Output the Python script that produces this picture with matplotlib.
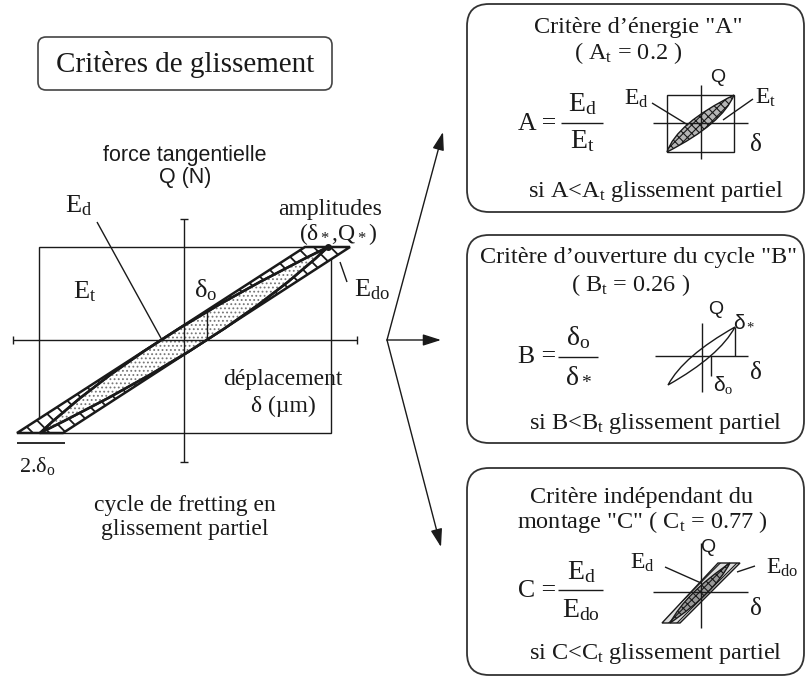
import matplotlib
matplotlib.use("Agg")
import matplotlib.pyplot as plt
from matplotlib.patches import FancyBboxPatch, Rectangle, PathPatch, Polygon
from matplotlib.path import Path

# ---------------- data (text content) ----------------
main_title = "Critères de glissement"
criteria_names = ["A", "B", "C"]
thresholds = [0.2, 0.26, 0.77]
criteria_titles = ["Critère d\u2019énergie \"A\"",
                   "Critère d\u2019ouverture du cycle \"B\"",
                   "Critère indépendant du"]
caption_lines = ["cycle de fretting en", "glissement partiel"]
axis_q_lines = ["force tangentielle", "Q (N)"]
axis_d_lines = ["déplacement", "δ (µm)"]

plt.rcParams['font.family'] = ['Liberation Serif', 'DejaVu Serif']
plt.rcParams['mathtext.fontset'] = 'custom'
plt.rcParams['mathtext.rm'] = 'Liberation Serif'
plt.rcParams['mathtext.it'] = 'Liberation Serif:italic'
plt.rcParams['mathtext.bf'] = 'Liberation Serif:bold'
plt.rcParams['hatch.linewidth'] = 0.8

fig = plt.figure(figsize=(8.06, 6.79), dpi=100)
ax = fig.add_axes([0, 0, 1, 1])
ax.set_xlim(0, 806)
ax.set_ylim(679, 0)
ax.axis('off')

K = '#1a1a1a'
SERIF = 17
BOX = 17.5
SANS = ['Liberation Sans', 'DejaVu Sans']


def T(x, y, s, size=SERIF, family=None, ha='center', va='center'):
    kw = {}
    if family is not None:
        kw['family'] = family
    ax.text(x, y, s, fontsize=size, ha=ha, va=va, color=K, **kw)


def L(xs, ys, lw=1.0, color=K):
    ax.plot(xs, ys, color=color, lw=lw, solid_capstyle='butt')


def lens(p0, p1, off):
    """lens-shaped loop between two tips, offsets of the quadratic control points in x"""
    mx, my = (p0[0] + p1[0]) / 2, (p0[1] + p1[1]) / 2
    verts = [p0, (mx - off[0], my), p1, (mx + off[1], my), p0, p0]
    codes = [Path.MOVETO, Path.CURVE3, Path.CURVE3, Path.CURVE3, Path.CURVE3, Path.CLOSEPOLY]
    return Path(verts, codes)


# ---------------- title box ----------------
ax.add_patch(FancyBboxPatch((38, 37), 294, 53, boxstyle="round,pad=0,rounding_size=8",
                            fc='white', ec='#444444', lw=1.2))
T(185, 64, main_title, size=21)

# ---------------- main diagram ----------------
ax.add_patch(Rectangle((39, 247), 292, 186, fill=False, ec=K, lw=1.0))
L([184, 184], [219, 462])
L([13, 357], [340, 340])
for (x0, x1, y0, y1) in [(180, 188, 219, 219), (180, 188, 462, 462)]:
    L([x0, x1], [y0, y1])
for (x0, x1, y0, y1) in [(13, 13, 336, 344), (357, 357, 336, 344)]:
    L([x0, x1], [y0, y1])

# hatched parallelogram (E_do)
with plt.rc_context({'hatch.linewidth': 1.3}):
    ax.add_patch(Polygon([(17, 433), (63, 433), (350, 247), (305, 247)], closed=True,
                         fc='white', ec=K, lw=1.8, hatch='\\\\'))
# dotted loop (E_d)
loop = lens((40, 433), (328, 247), (46, 46))
ax.add_patch(PathPatch(loop, fc='white', ec=K, lw=1.8))
ax.add_patch(PathPatch(loop, fc='none', ec='#777777', lw=0, hatch='....'))
ax.add_patch(PathPatch(loop, fc='none', ec=K, lw=1.8))
ax.plot([328], [247], 'o', color=K, ms=4)
L([17, 65], [443, 443], lw=1.3)
L([207, 207], [312, 340])
L([97, 162], [222, 340])
L([340, 347], [262, 282])

T(185, 155, axis_q_lines[0], size=15.5, family=SANS)
T(185, 177, axis_q_lines[1], size=15.5, family=SANS)
T(79, 206, r'E$_\mathrm{d}$', size=19)
T(330, 210, "amplitudes")
T(338, 234, r'(δ$_*$,Q$_*$)', size=17)
T(85, 292, r'E$_\mathrm{t}$', size=19)
T(206, 290, r'δ$_\mathrm{o}$', size=19)
T(372, 290, r'E$_\mathrm{do}$', size=19)
T(283, 379, axis_d_lines[0])
T(283, 406, axis_d_lines[1])
T(37, 466, r'2.δ$_\mathrm{o}$', size=16)
T(185, 505, caption_lines[0])
T(185, 530, caption_lines[1])

# ---------------- arrows ----------------
apex = (387, 340)
for tip in [(443, 132), (441, 340), (441, 547)]:
    ax.annotate('', xy=tip, xytext=apex,
                arrowprops=dict(arrowstyle='-|>,head_length=1.1,head_width=0.35',
                                color=K, lw=1.0, shrinkA=0, shrinkB=0))

# ---------------- criterion boxes ----------------
boxes = [(467, 4, 212), (467, 235, 443), (467, 468, 675)]
for (x0, y0, y1) in boxes:
    ax.add_patch(FancyBboxPatch((x0, y0), 337, y1 - y0, boxstyle="round,pad=0,rounding_size=22",
                                fc='white', ec='#333333', lw=1.3))

# Box A
T(638, 28, criteria_titles[0], size=BOX)
T(628, 53, r'( A$_\mathrm{t}$ = %s )' % thresholds[0], size=BOX)
T(537, 124, '%s =' % criteria_names[0], size=18.5)
L([561, 603], [123, 123], lw=1.0)
T(582, 104, r'E$_\mathrm{d}$', size=20)
T(582, 141, r'E$_\mathrm{t}$', size=20)
T(656, 192, r'si %s<%s$_\mathrm{t}$ glissement partiel' % (criteria_names[0], criteria_names[0]),
  size=BOX)
# inset A
ax.add_patch(Rectangle((667, 95), 67, 57, fill=False, ec=K, lw=1.0))
L([701, 701], [85, 159])
L([653, 748], [123, 123])
pA = lens((667, 152), (734, 95), (24, 22))
ax.add_patch(PathPatch(pA, fc='#b5b5b5', ec=K, lw=1.0, hatch='xxxx'))
L([652, 688], [103, 125])
L([753, 723], [99, 120])
T(718, 78, 'Q', size=14, family=SANS)
T(636, 99, r'E$_\mathrm{d}$', size=17)
T(766, 98, r'E$_\mathrm{t}$', size=17)
T(756, 145, 'δ', size=18)

# Box B
T(638, 258, criteria_titles[1], size=BOX)
T(631, 285, r'( B$_\mathrm{t}$ = %s )' % thresholds[1], size=BOX)
T(537, 357, '%s =' % criteria_names[1], size=18.5)
L([558, 598], [357, 357], lw=1.0)
T(578, 338, r'δ$_\mathrm{o}$', size=20)
T(578, 376, r'δ$_*$', size=20)
T(656, 424, r'si %s<%s$_\mathrm{t}$ glissement partiel' % (criteria_names[1], criteria_names[1]),
  size=BOX)
# inset B
L([702, 702], [323, 392])
L([655, 748], [356, 356])
ax.add_patch(PathPatch(lens((668, 385), (735, 327), (18, 18)), fc='none', ec=K, lw=1.0))
L([735, 735], [327, 356])
L([711, 711], [356, 376])
T(716, 310, 'Q', size=14, family=SANS)
T(744, 321, r'δ$_*$', size=15, family=SANS)
T(756, 373, 'δ', size=18)
T(723, 385, r'δ$_\mathrm{o}$', size=15, family=SANS)

# Box C
T(642, 497, criteria_titles[2], size=BOX)
T(642, 522, r'montage "C" ( C$_\mathrm{t}$ = %s )' % thresholds[2], size=BOX)
T(537, 591, '%s =' % criteria_names[2], size=18.5)
L([558, 603], [590, 590], lw=1.0)
T(581, 572, r'E$_\mathrm{d}$', size=20)
T(581, 610, r'E$_\mathrm{do}$', size=20)
T(656, 653, r'si %s<%s$_\mathrm{t}$ glissement partiel' % (criteria_names[2], criteria_names[2]),
  size=BOX)
# inset C
L([701, 701], [543, 628])
L([653, 748], [592, 592])
ax.add_patch(Polygon([(662, 623), (680, 623), (740, 563), (718, 563)], closed=True,
                     fc='#dddddd', ec=K, lw=1.0, hatch='////'))
ax.add_patch(PathPatch(lens((670, 623), (730, 563), (14, 14)), fc='#999999', ec=K, lw=1.0,
                       hatch='xxxx'))
L([665, 701], [567, 583])
L([755, 737], [566, 572])
T(708, 548, 'Q', size=14, family=SANS)
T(642, 563, r'E$_\mathrm{d}$', size=17)
T(782, 568, r'E$_\mathrm{do}$', size=17)
T(756, 609, 'δ', size=18)

fig.savefig('out.png', dpi=100)
